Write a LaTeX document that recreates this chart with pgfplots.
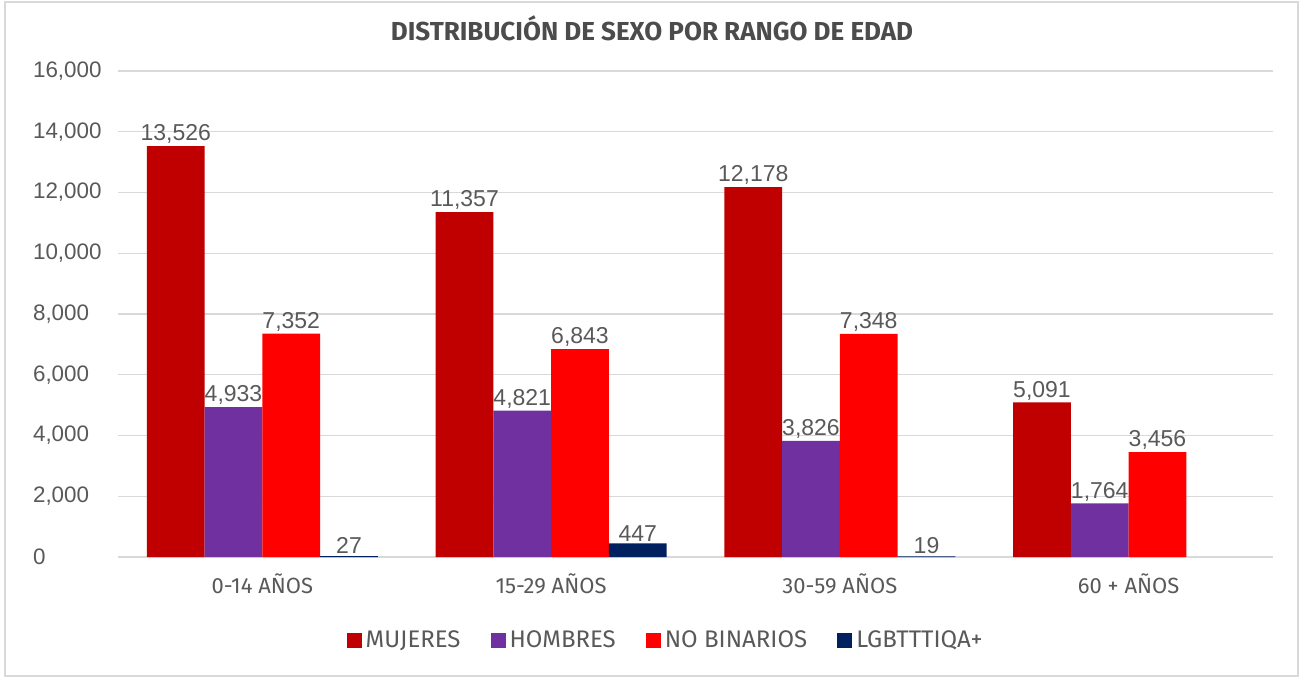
\documentclass[border=0pt]{standalone}
\usepackage{pgfplots}
\pgfplotsset{compat=1.18}
\usepackage{fontspec}
\setmainfont{Liberation Sans}
\newfontfamily\titlefont{Fira Sans}
\newfontfamily\labfont{Fira Sans}
\definecolor{cM}{HTML}{C00000}
\definecolor{cH}{HTML}{7030A0}
\definecolor{cN}{HTML}{FF0000}
\definecolor{cL}{HTML}{002060}
\definecolor{txt}{HTML}{595959}
\definecolor{grd}{HTML}{D9D9D9}
\begin{document}
\begin{tikzpicture}[x=1pt,y=1pt]
\path[use as bounding box] (0,0) rectangle (652,338.5);
\draw[grd,line width=0.6pt] (2.5,0.5) rectangle (649,337.5);
\node[font=\titlefont\bfseries\fontsize{13}{15}\selectfont, text=black!70] at (326,324.5) {DISTRIBUCIÓN DE SEXO POR RANGO DE EDAD};
\begin{axis}[
  at={(59pt,60pt)}, anchor=south west,
  scale only axis, width=577.5pt, height=243pt,
  ybar=0pt, bar width=0.2,
  xmin=-0.5, xmax=3.5, ymin=0, ymax=16000,
  xtick={0,1,2,3},
  xticklabels={0-14 AÑOS,15-29 AÑOS,30-59 AÑOS,60 + AÑOS},
  ytick={0,2000,4000,6000,8000,10000,12000,14000,16000},
  scaled y ticks=false,
  /pgf/number format/assume math mode=true,
  yticklabel style={/pgf/number format/1000 sep={,}, font=\fontsize{11.2}{13}\selectfont, text=txt, anchor=west, xshift=-46pt},
  xticklabel style={font=\labfont\fontsize{11}{13}\selectfont, text=txt, yshift=-5pt},
  axis line style={draw=none},
  major tick length=0pt,
  ymajorgrids, grid style={grd, line width=0.6pt},
  nodes near coords,
  nodes near coords style={/pgf/number format/1000 sep={,}, /pgf/number format/assume math mode=true, font=\fontsize{11.5}{13}\selectfont, text=txt, inner sep=1pt},
  legend columns=4,
  legend style={at={(0.475,-0.171)}, anchor=center, draw=none, font=\labfont\fontsize{12}{14}\selectfont, text=txt, /tikz/every even column/.append style={column sep=13pt}, /tikz/every odd column/.append style={column sep=0pt}},
  legend image code/.code={\fill[#1] (0pt,-3.75pt) rectangle (7.5pt,3.75pt);},
  clip=false,
]
\addplot[fill=cM, draw=none] coordinates {(0,13526) (1,11357) (2,12178) (3,5091)};
\addplot[fill=cH, draw=none] coordinates {(0,4933) (1,4821) (2,3826) (3,1764)};
\addplot[fill=cN, draw=none] coordinates {(0,7352) (1,6843) (2,7348) (3,3456)};
\addplot[fill=cL, draw=none] coordinates {(0,27) (1,447) (2,19)};
\legend{MUJERES,HOMBRES,NO BINARIOS,LGBTTTIQA+}
\end{axis}
\end{tikzpicture}
\end{document}
